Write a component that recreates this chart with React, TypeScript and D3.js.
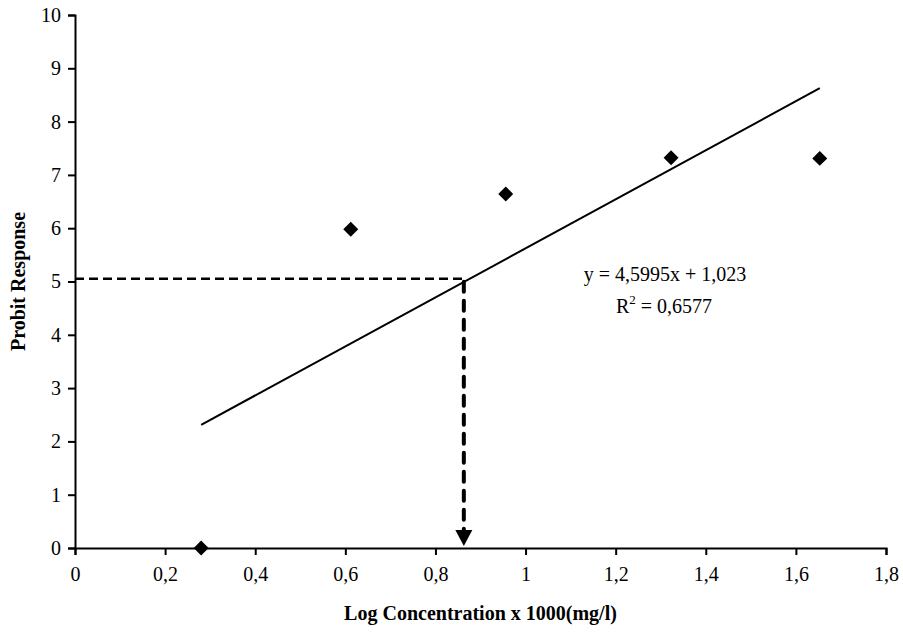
import React, { useRef, useEffect } from "react";
import * as d3 from "d3";

// observed points
const logConc = [0.28, 0.612, 0.956, 1.323, 1.653];
const probit = [0, 5.98, 6.64, 7.32, 7.31];

// fitted trendline y = slope * x + intercept
const slope = 4.5995;
const intercept = 1.023;
const trendRange = [0.28, 1.653];

// LC50 read-off guide
const guideX = 0.863;
const guideY = 5.05;

const xTicks = [0, 0.2, 0.4, 0.6, 0.8, 1, 1.2, 1.4, 1.6, 1.8];
const yTicks = [0, 1, 2, 3, 4, 5, 6, 7, 8, 9, 10];

const eqLine1 = "y = 4,5995x + 1,023";
const eqR2 = " = 0,6577";

const App = () => {
  const svgRef = useRef<SVGSVGElement>(null);

  useEffect(() => {
    const width = 903;
    const height = 632;
    const font = "'Liberation Serif', 'Times New Roman', serif";

    const svg = d3.select(svgRef.current);
    svg.selectAll("*").remove();

    const x = d3.scaleLinear().domain([0, 1.8]).range([75, 886]);
    const y = d3.scaleLinear().domain([0, 10]).range([548, 15]);

    const fmt = (v: number) => String(v).replace(".", ",");

    // Y AXIS
    const gy = svg
      .append("g")
      .attr("transform", `translate(${x(0)},0)`)
      .call(d3.axisLeft(y).tickValues(yTicks).tickSize(7).tickPadding(7).tickFormat((d) => fmt(+d)));
    gy.select(".domain").attr("stroke", "#000").attr("stroke-width", 2);
    gy.selectAll(".tick line").attr("stroke", "#000").attr("stroke-width", 2);
    gy.selectAll(".tick text")
      .attr("font-family", font)
      .attr("font-size", 20)
      .attr("fill", "#000");

    // X AXIS
    const gx = svg
      .append("g")
      .attr("transform", `translate(0,${y(0)})`)
      .call(d3.axisBottom(x).tickValues(xTicks).tickSize(7).tickPadding(12).tickFormat((d) => fmt(+d)));
    gx.select(".domain").attr("stroke", "#000").attr("stroke-width", 2);
    gx.selectAll(".tick line").attr("stroke", "#000").attr("stroke-width", 2);
    gx.selectAll(".tick text")
      .attr("font-family", font)
      .attr("font-size", 20)
      .attr("fill", "#000");

    // TRENDLINE
    svg
      .append("line")
      .attr("x1", x(trendRange[0]))
      .attr("y1", y(slope * trendRange[0] + intercept))
      .attr("x2", x(trendRange[1]))
      .attr("y2", y(slope * trendRange[1] + intercept))
      .attr("stroke", "#000")
      .attr("stroke-width", 2);

    // GUIDE LINES
    svg
      .append("line")
      .attr("x1", x(0))
      .attr("y1", y(guideY))
      .attr("x2", x(guideX))
      .attr("y2", y(guideY))
      .attr("stroke", "#000")
      .attr("stroke-width", 2.5)
      .attr("stroke-dasharray", "9,5");

    const arrowH = 16;
    svg
      .append("line")
      .attr("x1", x(guideX))
      .attr("y1", y(guideY) + 3)
      .attr("x2", x(guideX))
      .attr("y2", y(0) - arrowH)
      .attr("stroke", "#000")
      .attr("stroke-width", 4)
      .attr("stroke-linecap", "round")
      .attr("stroke-dasharray", "10,9");

    const ax = x(guideX);
    const ay = y(0) - 2;
    svg
      .append("path")
      .attr("d", `M${ax - 8.5},${ay - arrowH} L${ax + 8.5},${ay - arrowH} L${ax},${ay} Z`)
      .attr("fill", "#000");

    // POINTS
    const diamond = d3.symbol().type(d3.symbolSquare).size(112);
    svg
      .selectAll(".pt")
      .data(logConc.map((c, i) => [c, probit[i]]))
      .join("path")
      .attr("class", "pt")
      .attr("d", diamond)
      .attr("transform", (d) => `translate(${x(d[0])},${y(d[1])}) rotate(45)`)
      .attr("fill", "#000");

    // EQUATION
    svg
      .append("text")
      .attr("x", 665)
      .attr("y", 281)
      .attr("text-anchor", "middle")
      .attr("font-family", font)
      .attr("font-size", 20)
      .text(eqLine1);

    const r2 = svg
      .append("text")
      .attr("x", 664)
      .attr("y", 313)
      .attr("text-anchor", "middle")
      .attr("font-family", font)
      .attr("font-size", 20)
      .attr("xml:space", "preserve")
      .style("white-space", "pre");
    r2.append("tspan").text("R");
    r2.append("tspan").attr("font-size", 13).attr("dy", -9).text("2");
    r2.append("tspan").attr("dy", 9).text(eqR2);

    // AXIS TITLES
    svg
      .append("text")
      .attr("x", (x(0) + x(1.8)) / 2)
      .attr("y", 620)
      .attr("text-anchor", "middle")
      .attr("font-family", font)
      .attr("font-weight", "bold")
      .attr("font-size", 20)
      .text("Log Concentration x 1000(mg/l)");

    svg
      .append("text")
      .attr("transform", `translate(25,${(y(0) + y(10)) / 2}) rotate(-90)`)
      .attr("text-anchor", "middle")
      .attr("font-family", font)
      .attr("font-weight", "bold")
      .attr("font-size", 20)
      .text("Probit Response");

    svg.attr("width", width).attr("height", height);
  }, []);

  return (
    <div style={{ position: "absolute", left: 0, top: 0 }}>
      <svg ref={svgRef} style={{ display: "block", background: "#fff" }}></svg>
    </div>
  );
};

export default App;
